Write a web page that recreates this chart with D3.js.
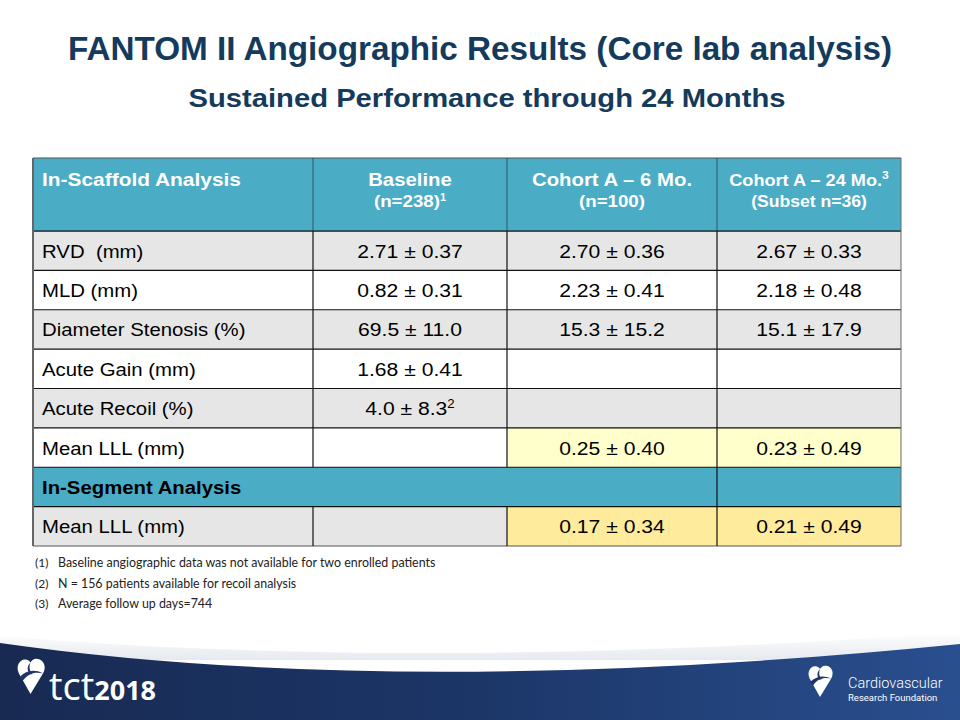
<!DOCTYPE html>
<html><head><meta charset="utf-8">
<script src="https://cdn.jsdelivr.net/npm/d3@7"></script>
<style>
html,body{margin:0;padding:0;background:#fff;}
svg{display:block;}
text{white-space:pre;}
</style></head>
<body>
<script>
// ---- data ----
const title = "FANTOM II Angiographic Results (Core lab analysis)";
const subtitle = "Sustained Performance through 24 Months";
const headerLabel = "In-Scaffold Analysis";
const columnTitles = ["Baseline", "Cohort A \u2013 6 Mo.", "Cohort A \u2013 24 Mo."];
const columnSubtitles = ["(n=238)", "(n=100)", "(Subset n=36)"];
const columnTitleSup = ["", "", "3"];
const columnSubSup = ["1", "", ""];
const rowLabels = ["RVD  (mm)", "MLD (mm)", "Diameter Stenosis (%)", "Acute Gain (mm)", "Acute Recoil (%)", "Mean LLL (mm)", "In-Segment Analysis", "Mean LLL (mm)"];
const baseline = ["2.71 \u00b1 0.37", "0.82 \u00b1 0.31", "69.5 \u00b1 11.0", "1.68 \u00b1 0.41", "4.0 \u00b1 8.3", "", "", ""];
const baselineSup = ["", "", "", "", "2", "", "", ""];
const cohort6 = ["2.70 \u00b1 0.36", "2.23 \u00b1 0.41", "15.3 \u00b1 15.2", "", "", "0.25 \u00b1 0.40", "", "0.17 \u00b1 0.34"];
const cohort24 = ["2.67 \u00b1 0.33", "2.18 \u00b1 0.48", "15.1 \u00b1 17.9", "", "", "0.23 \u00b1 0.49", "", "0.21 \u00b1 0.49"];
const footnotes = ["Baseline angiographic data was not available for two enrolled patients", "N = 156 patients available for recoil analysis", "Average follow up days=744"];
const footnoteMarks = ["(1)", "(2)", "(3)"];

// ---- layout ----
const W = 960, H = 720;
const svg = d3.select("body").append("svg").attr("width", W).attr("height", H);
const navy = "#143a5c";
const teal = "#4bacc6";
const grey = "#e6e6e6";
const yellow1 = "#ffffcc";
const yellow2 = "#ffeb9c";
const font = "'Liberation Sans', Arial, sans-serif";
const SX = 1.1; // horizontal stretch of the slide
const titleSizes = [18.5, 18.5, 16.5];
const subSizes = [17, 17, 16];

svg.append("text").attr("x", 480).attr("y", 60).attr("text-anchor", "middle")
  .attr("font-family", font).attr("font-weight", "bold")
  .attr("font-size", 32.5).attr("fill", navy)
  .attr("textLength", 824).attr("lengthAdjust", "spacingAndGlyphs").text(title);
svg.append("text").attr("x", 487).attr("y", 107).attr("text-anchor", "middle")
  .attr("font-family", font).attr("font-weight", "bold")
  .attr("font-size", 26.5).attr("fill", navy)
  .attr("textLength", 597).attr("lengthAdjust", "spacingAndGlyphs").text(subtitle);

// table geometry
const colEdges = [33, 313, 507, 717, 901];
const tableTop = 158, headerBottom = 231, tableBottom = 546;
const rowScale = d3.scaleBand().domain(d3.range(rowLabels.length)).range([headerBottom, tableBottom]).padding(0);
const segRow = 6;

const g = svg.append("g");
g.append("rect").attr("x", colEdges[0]).attr("y", tableTop).attr("width", colEdges[4] - colEdges[0])
  .attr("height", headerBottom - tableTop).attr("fill", teal);

function cellFill(r, c) {
  if (r === segRow) return teal;
  if (r === 5 && c >= 2) return yellow1;
  if (r === 7 && c >= 2) return yellow2;
  return (r % 2 === 0 || r === 7) ? grey : "#ffffff";
}
rowLabels.forEach((lab, r) => {
  for (let c = 0; c < 4; c++) {
    g.append("rect").attr("x", colEdges[c]).attr("y", rowScale(r))
      .attr("width", colEdges[c + 1] - colEdges[c]).attr("height", rowScale.bandwidth())
      .attr("fill", cellFill(r, c));
  }
});

const lines = g.append("g").attr("stroke", "#111").attr("stroke-width", 1.2);
rowLabels.forEach((lab, r) => {
  if (r === 0) return;
  lines.append("line").attr("x1", colEdges[0]).attr("x2", colEdges[4])
    .attr("y1", rowScale(r)).attr("y2", rowScale(r));
});
lines.append("line").attr("x1", colEdges[0]).attr("x2", colEdges[4])
  .attr("y1", headerBottom).attr("y2", headerBottom).attr("stroke", "#2e5563").attr("stroke-width", 2);
lines.append("line").attr("x1", colEdges[0]).attr("x2", colEdges[4])
  .attr("y1", tableBottom).attr("y2", tableBottom).attr("stroke", "#555");
lines.append("line").attr("x1", colEdges[0]).attr("x2", colEdges[4])
  .attr("y1", tableTop).attr("y2", tableTop).attr("stroke", "#555");
[1, 2, 3].forEach(c => {
  rowLabels.forEach((lab, r) => {
    if (r === segRow && c < 3) return;
    lines.append("line").attr("x1", colEdges[c]).attr("x2", colEdges[c])
      .attr("y1", rowScale(r)).attr("y2", rowScale(r) + rowScale.bandwidth());
  });
  lines.append("line").attr("x1", colEdges[c]).attr("x2", colEdges[c])
    .attr("y1", tableTop).attr("y2", headerBottom).attr("stroke", "#2e5563").attr("stroke-width", 1);
});
lines.append("line").attr("x1", colEdges[0]).attr("x2", colEdges[0])
  .attr("y1", tableTop).attr("y2", tableBottom).attr("stroke", "#666").attr("stroke-width", 2);
lines.append("line").attr("x1", colEdges[4]).attr("x2", colEdges[4])
  .attr("y1", tableTop).attr("y2", tableBottom).attr("stroke", "#666").attr("stroke-width", 1);

function stext(x, y, anchor) {
  return g.append("text").attr("transform", `translate(${x},${y}) scale(${SX},1)`)
    .attr("text-anchor", anchor).attr("font-family", font);
}

stext(42, 186, "start").attr("font-weight", "bold").attr("font-size", 19).attr("fill", "#fff").text(headerLabel);
columnTitles.forEach((t, i) => {
  const cx = (colEdges[i + 1] + colEdges[i + 2]) / 2;
  const t1 = stext(cx, 186, "middle").attr("font-weight", "bold").attr("font-size", titleSizes[i]).attr("fill", "#fff");
  t1.append("tspan").text(t);
  if (columnTitleSup[i]) t1.append("tspan").attr("font-size", 11).attr("dy", -7).text(columnTitleSup[i]);
  const t2 = stext(cx, 207, "middle").attr("font-weight", "bold").attr("font-size", subSizes[i]).attr("fill", "#fff");
  t2.append("tspan").text(columnSubtitles[i]);
  if (columnSubSup[i]) t2.append("tspan").attr("font-size", 10).attr("dy", -6).text(columnSubSup[i]);
});

const cols = [baseline, cohort6, cohort24];
rowLabels.forEach((lab, r) => {
  const cy = rowScale(r) + rowScale.bandwidth() / 2 + 7;
  stext(42, cy, "start").attr("font-size", 18.5).attr("font-weight", r === segRow ? "bold" : "normal")
    .attr("fill", "#000").text(lab);
  cols.forEach((arr, c) => {
    if (!arr[r]) return;
    const cx = (colEdges[c + 1] + colEdges[c + 2]) / 2;
    const t = stext(cx, cy, "middle").attr("font-size", 19.2).attr("fill", "#000");
    t.append("tspan").text(arr[r]);
    if (c === 0 && baselineSup[r]) t.append("tspan").attr("font-size", 12).attr("dy", -7).text(baselineSup[r]);
  });
});

// footnotes
footnotes.forEach((f, i) => {
  const y = 567 + i * 20.5;
  svg.append("text").attr("x", 35).attr("y", y).attr("font-family", "Lato, 'Open Sans', sans-serif")
    .attr("font-size", 12).attr("fill", "#222").text(footnoteMarks[i]);
  svg.append("text").attr("x", 58).attr("y", y).attr("font-family", "Lato, 'Open Sans', sans-serif")
    .attr("font-size", 12.4).attr("fill", "#222").text(f);
});

// bottom banner
const defs = svg.append("defs");
const grad = defs.append("linearGradient").attr("id", "bg").attr("x1", "0").attr("x2", "1").attr("y1", "0").attr("y2", "0");
grad.append("stop").attr("offset", "0").attr("stop-color", "#182a52");
grad.append("stop").attr("offset", "0.5").attr("stop-color", "#1c3668");
grad.append("stop").attr("offset", "1").attr("stop-color", "#2a4f8f");
const shade = defs.append("linearGradient").attr("id", "sh").attr("x1", "0").attr("x2", "0").attr("y1", "0").attr("y2", "1");
shade.append("stop").attr("offset", "0").attr("stop-color", "#ffffff");
shade.append("stop").attr("offset", "1").attr("stop-color", "#dfe3ea");
svg.append("path").attr("d", "M0,636 Q420,672 960,632 L960,660 L0,660 Z").attr("fill", "url(#sh)").attr("opacity", 0.8);
svg.append("path").attr("d", "M0,643 Q400,700 960,644 L960,720 L0,720 Z").attr("fill", "url(#bg)");

function heart(x, y, s) {
  const gg = svg.append("g").attr("transform", `translate(${x},${y}) scale(${s})`);
  gg.append("path").attr("d", "M15,40 L2,17 C-2,8 4,0 11,2 C14,3 15,5 15,5 C16,3 19,0 23,1 C30,2 33,10 29,17 Z").attr("fill", "#fff");
  gg.append("path").attr("d", "M3,21 C10,14 19,12 29,17 C20,15 12,17 6,26 Z").attr("fill", "#1c3668");
  gg.append("path").attr("d", "M15,5 C13,10 14,14 17,18 L14,18 C11,14 11,9 15,5 Z").attr("fill", "#1c3668");
}
heart(17, 658, 0.9);
heart(808, 665, 0.8);
const tt = svg.append("text").attr("x", 49).attr("y", 700).attr("font-family", "'Open Sans', Roboto, sans-serif")
  .attr("fill", "#fff");
tt.append("tspan").attr("font-size", 38).attr("font-weight", 400).text("tct");
tt.append("tspan").attr("font-size", 27).attr("font-weight", "bold").text("2018");
svg.append("text").attr("x", 848).attr("y", 688).attr("font-family", "Roboto, 'Liberation Sans', sans-serif")
  .attr("font-size", 14.5).attr("fill", "#fff").attr("font-weight", 300).text("Cardiovascular");
svg.append("text").attr("x", 848).attr("y", 701).attr("font-family", "Roboto, 'Liberation Sans', sans-serif")
  .attr("font-size", 9.5).attr("fill", "#fff").text("Research Foundation");
</script>
</body></html>
